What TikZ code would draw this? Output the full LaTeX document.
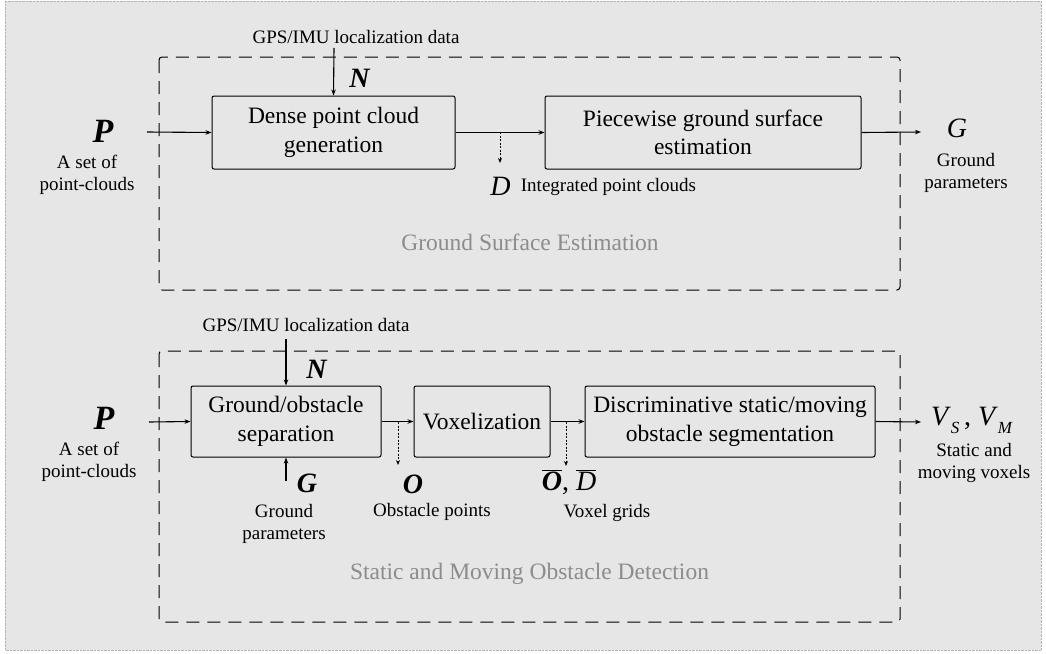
\documentclass[tikz,border=0pt]{standalone}
\usepackage{fontspec}
\setmainfont{Liberation Serif}
\usetikzlibrary{arrows.meta}

\definecolor{panelbg}{HTML}{E6E6E6}
\definecolor{titlegray}{HTML}{8C8C8C}

\newcommand{\lowsub}[1]{\raisebox{-0.28em}{\fontsize{17}{17}\selectfont\textit{#1}}}

\tikzset{
  block/.style={draw, rounded corners=2pt, line width=1pt, align=center, inner sep=0pt,
    font=\fontsize{23.5}{28.5}\selectfont},
  frame/.style={draw=black, dash pattern=on 13pt off 8pt, line width=1pt, rounded corners=3pt},
  stagetitle/.style={draw=black!10, rounded corners=3pt, text=titlegray, inner sep=0pt,
    font=\fontsize{23.5}{28.5}\selectfont},
  sym/.style={inner sep=0pt, font=\fontsize{28}{30}\selectfont},
  bigsym/.style={inner sep=0pt, font=\fontsize{34}{36}\selectfont},
  note/.style={inner sep=0pt, align=center, font=\fontsize{19}{21.5}\selectfont},
  flow/.style={-{Stealth[length=6pt,width=4.5pt]}, line width=1.1pt},
  tap/.style={-{Stealth[length=5pt,width=4pt]}, line width=0.9pt, dash pattern=on 2pt off 1.5pt}
}

\begin{document}
\begin{tikzpicture}[x=1pt, y=-1pt]
\useasboundingbox (0,0) rectangle (1046,653);
\fill[white] (0,0) rectangle (1046,653);
\draw[fill=panelbg, draw=black!30, densely dotted] (5,1) rectangle (1041,650);

% ground surface estimation
\draw[frame] (159,57) rectangle (900,290);
\node[stagetitle, minimum width=318pt, minimum height=60pt] (gsetitle) at (530,242) {Ground Surface Estimation};

\node[block, minimum width=243pt, minimum height=73pt] (dense) at (333.5,132.5) {Dense point cloud\\generation};
\node[block, minimum width=316pt, minimum height=73pt] (piece) at (703,132.5) {Piecewise ground surface\\estimation};

\node[note] (gps1) at (356,37) {GPS/IMU localization data};
\coordinate (gps1end) at (334,48);
\node[sym] (n1) at (360,78) {\textbf{\textit{N}}};

\node[bigsym] (p1) at (103,131) {\textbf{\textit{P}}};
\node[note] (set1) at (87,175) {A set of\\point-clouds};
\coordinate (p1end) at (147,132);

\coordinate (d1top) at (500,132);
\coordinate (d1bot) at (500,163);
\node[sym] (d1) at (500.5,186) {\textit{D}};
\node[note] (int1) at (608.5,187) {Integrated point clouds};

\coordinate (g1end) at (921,132);
\node[sym] (g1) at (957,128) {\textit{G}};
\node[note] (gpar1) at (966,173) {Ground\\parameters};

\draw[flow] (p1end) -- (dense.west);
\draw[flow] (gps1end) -- (dense.north);
\draw[flow] (dense.east) -- (piece.west);
\draw[flow] (piece.east) -- (g1end);
\draw[tap] (d1top) -- (d1bot);

% static and moving obstacle detection
\draw[frame] (159,351) rectangle (900,622);
\node[stagetitle, minimum width=413pt, minimum height=60pt] (smodtitle) at (529.5,574) {Static and Moving Obstacle Detection};

\node[block, minimum width=190pt, minimum height=71pt] (sep) at (286,421.5) {Ground/obstacle\\separation};
\node[block, minimum width=136pt, minimum height=71pt] (vox) at (482,421.5) {Voxelization};
\node[block, minimum width=290pt, minimum height=71pt] (disc) at (730,421.5) {Discriminative static/moving\\obstacle segmentation};

\node[note] (gps2) at (306,325) {GPS/IMU localization data};
\coordinate (gps2end) at (286,339);
\node[sym] (n2) at (317,369) {\textbf{\textit{N}}};

\node[bigsym] (p2) at (104,418) {\textbf{\textit{P}}};
\node[note] (set2) at (89,462) {A set of\\point-clouds};
\coordinate (p2end) at (149,422);

\coordinate (g2end) at (286,481);
\node[sym] (g2) at (307,483) {\textbf{\textit{G}}};
\node[note] (gpar2) at (284,524) {Ground\\parameters};

\coordinate (o2top) at (398,422);
\coordinate (o2bot) at (398,465);
\node[sym] (o2) at (413,484) {\textbf{\textit{O}}};
\node[note] (obs2) at (432,512) {Obstacle points};

\coordinate (vg2top) at (566,422);
\coordinate (vg2bot) at (566,466);
\node[sym] (vg2) at (569,482) {$\overline{\hbox{\textbf{\textit{O}}}}$, $\overline{\hbox{\textit{D}}}$};
\node[note] (grid2) at (607,513) {Voxel grids};

\coordinate (v2end) at (921,422);
\node[sym] (v2) at (972,420) {\textit{V}\lowsub{S}\,, \textit{V}\lowsub{M}};
\node[note] (vv2) at (974,463) {Static and\\moving voxels};

\draw[flow] (p2end) -- (sep.west);
\draw[flow] (gps2end) -- (sep.north);
\draw[flow] (g2end) -- (sep.south);
\draw[flow] (sep.east) -- (vox.west);
\draw[flow] (vox.east) -- (disc.west);
\draw[flow] (disc.east) -- (v2end);
\draw[tap] (o2top) -- (o2bot);
\draw[tap] (vg2top) -- (vg2bot);
\end{tikzpicture}
\end{document}
